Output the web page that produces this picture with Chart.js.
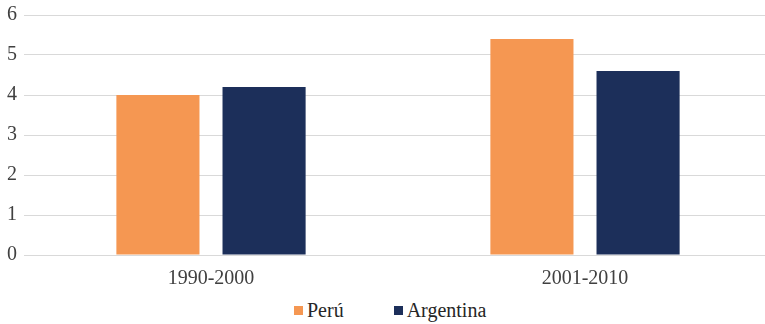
<!DOCTYPE html>
<html>
<head>
<meta charset="utf-8">
<script src="https://cdn.jsdelivr.net/npm/chart.js@4"></script>
<style>
  html, body { margin: 0; padding: 0; background: #fff; overflow: hidden; width: 765px; height: 324px; }
  #wrap { position: absolute; left: 0; top: 0; width: 772px; height: 292px; }
  #legend { position: absolute; left: 294px; top: 299px; display: flex; align-items: center;
            font-family: "Liberation Serif", "Times New Roman", serif; font-size: 20px; color: #262626; white-space: nowrap; }
  .item { display: flex; align-items: center; }
  .box { width: 9px; height: 9px; margin-right: 4px; }
</style>
</head>
<body>
<div id="wrap"><canvas id="c"></canvas></div>
<div id="legend"></div>
<script>
const categories = ["1990-2000", "2001-2010"];
const seriesNames = ["Perú", "Argentina"];
const peru = [4.0, 5.4];
const argentina = [4.2, 4.6];
const yTicks = [0, 1, 2, 3, 4, 5, 6];
const colors = ["#F59752", "#1C2F5A"];

const font = { family: "'Liberation Serif', 'Times New Roman', serif", size: 20 };

const chart = new Chart(document.getElementById("c"), {
  type: "bar",
  data: {
    labels: categories,
    datasets: [
      { label: seriesNames[0], data: peru, backgroundColor: colors[0] },
      { label: seriesNames[1], data: argentina, backgroundColor: colors[1] }
    ]
  },
  options: {
    responsive: true,
    maintainAspectRatio: false,
    animation: false,
    layout: { padding: { top: 15, left: 0, right: 0, bottom: 0 } },
    datasets: { bar: { categoryPercentage: 0.5676, barPercentage: 0.783 } },
    plugins: { legend: { display: false }, tooltip: { enabled: false } },
    scales: {
      x: {
        grid: { display: false },
        border: { display: false },
        ticks: { font: font, color: "#404040", padding: 4 },
        afterFit: s => { s.height = 37; s.paddingLeft = 0; s.paddingRight = 0; }
      },
      y: {
        min: 0, max: 6,
        afterBuildTicks: s => { s.ticks = yTicks.map(v => ({ value: v })); },
        grid: { color: "#D9D9D9", lineWidth: 1, drawTicks: false },
        border: { display: false },
        ticks: { font: font, color: "#404040", padding: 7 },
        afterFit: s => { s.width = 24; s.paddingTop = 0; s.paddingBottom = 0; }
      }
    }
  }
});

const leg = document.getElementById("legend");
chart.data.datasets.forEach((ds, i) => {
  const it = document.createElement("div");
  it.className = "item";
  if (i > 0) it.style.marginLeft = "50px";
  const b = document.createElement("span");
  b.className = "box";
  b.style.background = ds.backgroundColor;
  const t = document.createElement("span");
  t.textContent = ds.label;
  it.appendChild(b); it.appendChild(t);
  leg.appendChild(it);
});
</script>
</body>
</html>
